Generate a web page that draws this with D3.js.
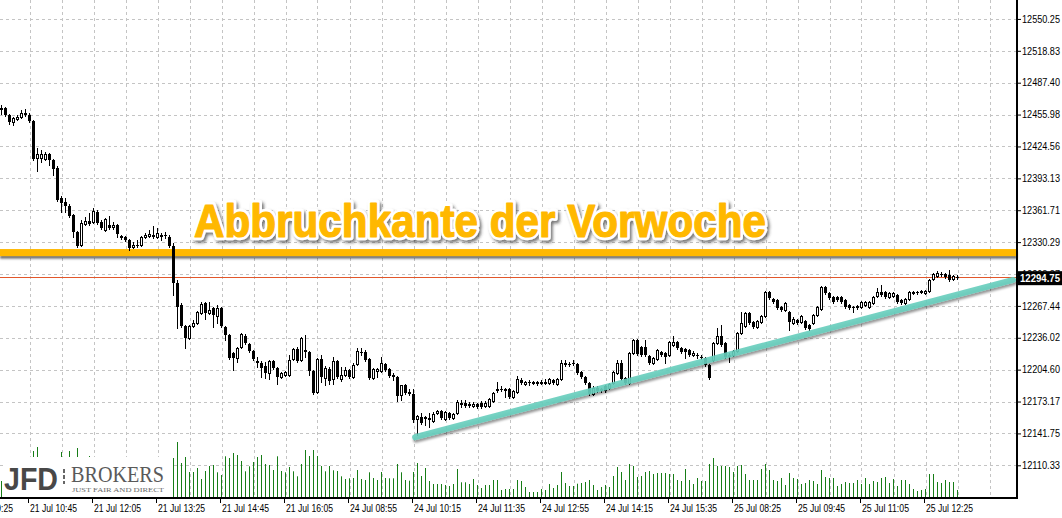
<!DOCTYPE html>
<html><head><meta charset="utf-8">
<script src="https://cdn.jsdelivr.net/npm/d3@7"></script>
<style>html,body{margin:0;padding:0;background:#fff;overflow:hidden}</style>
</head><body><svg id="chart" width="1062" height="518"></svg>
<script>
// ---- DATA (5-minute candles) ----
const openP = [
12461,12462,12456,12449,12452,12454,12458,12456,12450,12413,
12413,12412,12417,12411,12403,12374,12370,12366,12357,12340,
12327,12348,12351,12350,12360,12350,12342,12347,12345,12347,
12336,12335,12332,12325,12327,12327,12335,12336,12337,12335,
12337,12337,12335,12326,12290,12268,12248,12236,12248,12251,
12260,12270,12260,12265,12257,12265,12247,12239,12221,12216,
12227,12238,12230,12223,12213,12211,12208,12201,12213,12206,
12197,12199,12199,12215,12225,12214,12224,12222,12203,12183,
12215,12196,12205,12195,12213,12195,12199,12204,12197,12210,
12222,12222,12215,12196,12203,12203,12210,12205,12199,12197,
12180,12189,12183,12181,12156,12158,12158,12156,12154,12162,
12164,12156,12162,12157,12162,12171,12172,12171,12169,12171,
12172,12169,12169,12174,12185,12186,12186,12186,12178,12183,
12194,12190,12192,12191,12192,12191,12191,12191,12194,12190,
12195,12210,12210,12211,12210,12202,12197,12191,12181,12187,
12185,12188,12187,12191,12201,12211,12196,12191,12221,12234,
12227,12227,12218,12211,12215,12222,12221,12219,12229,12232,
12226,12225,12224,12219,12219,12217,12216,12209,12214,12231,
12238,12231,12219,12219,12223,12241,12248,12260,12252,12247,
12252,12257,12281,12274,12273,12266,12263,12261,12251,12254,
12252,12253,12249,12251,12258,12264,12286,12280,12276,12276,
12276,12273,12268,12266,12266,12266,12268,12266,12270,12277,
12281,12281,12276,12277,12278,12273,12270,12274,12280,12281,
12281,12280,12282,12294,12297,12299,12299,12298,12294,12296];
const highP = [
12465,12463,12457,12454,12456,12460,12461,12458,12451,12423,
12421,12419,12418,12412,12405,12376,12374,12368,12358,12341,
12352,12355,12359,12364,12362,12352,12354,12356,12350,12348,
12337,12336,12333,12330,12332,12336,12339,12342,12346,12344,
12339,12340,12337,12329,12293,12270,12249,12249,12254,12262,
12271,12271,12271,12266,12268,12266,12248,12240,12222,12227,
12241,12240,12231,12224,12217,12213,12212,12214,12214,12207,
12202,12203,12219,12226,12227,12237,12239,12223,12204,12216,
12219,12208,12207,12217,12214,12207,12207,12205,12211,12226,
12226,12224,12216,12206,12206,12217,12211,12206,12201,12198,
12189,12190,12186,12186,12160,12162,12159,12162,12163,12165,
12165,12164,12163,12162,12175,12175,12175,12173,12173,12172,
12174,12174,12177,12183,12192,12188,12187,12187,12185,12198,
12196,12193,12194,12193,12193,12194,12195,12196,12195,12196,
12214,12214,12212,12214,12211,12203,12198,12192,12188,12188,
12187,12189,12191,12203,12214,12214,12197,12222,12235,12235,
12228,12234,12219,12217,12225,12223,12222,12233,12238,12233,
12227,12226,12225,12223,12221,12219,12217,12210,12232,12246,
12249,12232,12221,12224,12242,12261,12261,12261,12253,12254,
12258,12282,12282,12275,12274,12267,12271,12262,12256,12255,
12258,12254,12250,12259,12267,12287,12287,12281,12277,12277,
12277,12274,12269,12267,12268,12272,12272,12272,12277,12285,
12288,12282,12281,12281,12279,12274,12275,12282,12282,12282,
12283,12283,12294,12300,12302,12301,12300,12303,12298,12298];
const lowP = [
12457,12455,12447,12446,12451,12453,12455,12449,12411,12400,
12409,12411,12406,12396,12371,12360,12360,12355,12335,12325,
12326,12347,12347,12349,12348,12343,12341,12343,12343,12335,
12333,12331,12323,12324,12325,12326,12334,12335,12334,12334,
12332,12334,12325,12278,12246,12247,12226,12235,12247,12250,
12259,12255,12259,12247,12251,12247,12234,12215,12204,12212,
12226,12230,12222,12214,12207,12197,12196,12195,12205,12190,
12196,12198,12198,12214,12212,12213,12217,12199,12181,12182,
12192,12189,12190,12190,12196,12193,12198,12196,12196,12209,
12219,12213,12195,12195,12197,12202,12203,12197,12194,12174,
12175,12181,12180,12153,12140,12151,12150,12148,12153,12161,
12156,12155,12156,12156,12161,12168,12168,12168,12168,12167,
12167,12168,12168,12173,12183,12184,12178,12177,12177,12182,
12190,12189,12189,12190,12189,12190,12190,12190,12190,12189,
12194,12208,12208,12209,12200,12196,12190,12180,12180,12183,
12183,12183,12186,12190,12200,12194,12190,12190,12220,12219,
12218,12218,12210,12210,12214,12218,12211,12218,12228,12225,
12221,12216,12218,12218,12216,12215,12208,12195,12213,12230,
12228,12216,12212,12218,12222,12240,12247,12250,12246,12246,
12251,12256,12274,12270,12264,12262,12262,12244,12250,12250,
12251,12245,12244,12250,12257,12263,12279,12274,12270,12272,
12270,12265,12264,12261,12264,12265,12267,12265,12269,12276,
12277,12275,12275,12276,12270,12269,12269,12273,12279,12279,
12280,12279,12281,12293,12296,12297,12295,12292,12293,12294];
const closeP = [
12462,12456,12449,12453,12454,12458,12456,12450,12412,12417,
12417,12417,12411,12402,12372,12369,12366,12356,12340,12326,
12349,12351,12348,12361,12349,12344,12353,12344,12347,12338,
12334,12332,12324,12327,12326,12335,12337,12338,12335,12339,
12335,12336,12326,12290,12266,12248,12236,12248,12251,12261,
12269,12260,12263,12258,12265,12248,12239,12216,12216,12226,
12240,12231,12223,12215,12211,12206,12201,12213,12206,12197,
12201,12202,12214,12225,12213,12236,12222,12203,12182,12215,
12197,12206,12193,12213,12197,12199,12204,12197,12209,12223,
12221,12214,12196,12205,12205,12211,12204,12198,12197,12179,
12189,12182,12181,12155,12159,12152,12156,12157,12161,12164,
12157,12163,12157,12161,12173,12172,12169,12169,12171,12168,
12168,12172,12176,12182,12186,12185,12184,12178,12184,12195,
12191,12192,12191,12192,12190,12192,12192,12195,12191,12195,
12211,12211,12209,12210,12201,12197,12191,12181,12187,12184,
12186,12184,12190,12202,12211,12195,12191,12221,12234,12220,
12219,12219,12211,12216,12224,12219,12217,12232,12232,12226,
12222,12222,12219,12221,12218,12216,12209,12196,12231,12238,
12229,12217,12217,12223,12241,12251,12260,12251,12247,12253,
12257,12281,12275,12271,12265,12263,12270,12252,12255,12251,
12257,12246,12245,12258,12266,12286,12280,12275,12271,12273,
12271,12266,12265,12265,12267,12271,12271,12271,12276,12281,
12278,12276,12280,12280,12271,12270,12274,12281,12281,12280,
12282,12282,12293,12299,12300,12298,12296,12293,12297,12294.75];
const volumes = [
170,180,220,200,160,180,150,240,470,510,
300,220,250,280,350,460,300,470,350,500,
380,320,420,360,300,260,280,240,200,260,
220,180,250,200,180,220,200,160,220,180,
150,140,240,400,560,350,410,260,260,300,
190,270,320,330,257,230,417,400,450,430,
370,267,317,360,410,430,340,330,280,417,
270,257,310,267,217,340,480,420,480,420,
320,267,320,277,270,217,190,197,200,280,
190,180,257,200,180,260,200,197,197,340,
257,180,173,260,350,220,300,170,140,140,
140,130,120,140,290,157,157,140,190,130,
100,130,130,180,180,80,90,90,90,180,
170,110,60,60,60,90,80,140,100,130,
260,150,120,120,143,150,160,180,130,80,
110,130,110,220,310,260,180,340,320,210,
220,260,270,240,250,250,250,240,240,180,
170,290,180,140,200,170,170,340,400,320,
320,320,310,260,320,330,240,180,180,180,
290,340,280,180,170,200,130,250,200,190,
140,150,180,170,140,280,210,200,200,120,
140,160,150,150,180,140,200,140,170,160,
200,210,150,190,120,180,180,140,90,70,
80,90,240,240,160,150,180,160,160,80];
const yTickValues = [12110.33,12141.75,12173.17,12204.60,12236.02,12267.44,12298.87,12330.29,12361.71,12393.13,12424.56,12455.98,12487.40,12518.83,12550.25];
const xTickBars = [-9,7,23,39,55,71,87,103,119,135,151,167,183,199,215,231];
const xTickLabels = ["21 Jul 09:25","21 Jul 10:45","21 Jul 12:05","21 Jul 13:25","21 Jul 14:45","21 Jul 16:05","24 Jul 08:55","24 Jul 10:15","24 Jul 11:35","24 Jul 12:55","24 Jul 14:15","24 Jul 15:35","25 Jul 08:25","25 Jul 09:45","25 Jul 11:05","25 Jul 12:25"];
const resistancePrice = 12320;
const lastPrice = 12294.75;
const trendBars = [103.4, 252.9];
const trendPrices = [12138, 12293];
const titleText = "Abbruchkante der Vorwoche";

// ---- DRAWING ----
const svg = d3.select("#chart");
const W = 1062, H = 518, plotR = 1017, plotB = 498;
const x = d3.scaleLinear().domain([0, 239]).range([1.5, 957.5]);
const y = d3.scaleLinear().domain([12078.1, 12568.9]).range([plotB, 0]);
const yVol = d3.scaleLinear().domain([0, 600]).range([plotB, 438]);
const FONT = "'Liberation Sans', Arial, sans-serif";

const defs = svg.append("defs");
function shadow(id, dx, dy, sd, op, color) {
  const f = defs.append("filter").attr("id", id)
    .attr("filterUnits", "userSpaceOnUse").attr("x", -20).attr("y", -20).attr("width", W + 40).attr("height", H + 40);
  f.append("feDropShadow").attr("dx", dx).attr("dy", dy).attr("stdDeviation", sd)
    .attr("flood-color", color || "#000").attr("flood-opacity", op);
}
shadow("shYellow", 0, 2.5, 1, 0.6);
shadow("shTeal", 1, 2.5, 1.2, 0.45);
shadow("shTitle", 2, 2.5, 1.4, 0.65, "#333");

svg.append("rect").attr("width", W).attr("height", H).attr("fill", "#fff");

// grid
const gridBars = d3.range(7, 250, 8);
svg.append("g").selectAll("line").data(gridBars).join("line")
  .attr("x1", d => Math.round(x(d)) + 0.5).attr("x2", d => Math.round(x(d)) + 0.5)
  .attr("y1", 0).attr("y2", plotB)
  .attr("stroke", "#c4c4c4").attr("stroke-dasharray", "3,3");
svg.append("g").selectAll("line").data(yTickValues).join("line")
  .attr("x1", 0).attr("x2", plotR)
  .attr("y1", d => Math.round(y(d)) + 0.5).attr("y2", d => Math.round(y(d)) + 0.5)
  .attr("stroke", "#c4c4c4").attr("stroke-dasharray", "3,3");

// volumes
svg.append("g").selectAll("line").data(volumes).join("line")
  .attr("x1", (d, i) => Math.floor(x(i)) + 0.5).attr("x2", (d, i) => Math.floor(x(i)) + 0.5)
  .attr("y1", plotB).attr("y2", d => yVol(d))
  .attr("stroke", "#177d17").attr("stroke-width", 1);

// logo
const logo = svg.append("g");
logo.append("rect").attr("x", 4).attr("y", 457).attr("width", 167).attr("height", 40).attr("fill", "#fff");
logo.append("text").attr("x", 4).attr("y", 490).text("JFD")
  .attr("font-family", FONT).attr("font-weight", "bold").attr("font-size", 32)
  .attr("textLength", 54).attr("lengthAdjust", "spacingAndGlyphs").attr("fill", "#484848");
logo.append("line").attr("x1", 64).attr("x2", 64).attr("y1", 469).attr("y2", 484)
  .attr("stroke", "#666").attr("stroke-width", 2).attr("stroke-dasharray", "4,2");
logo.append("text").attr("x", 71).attr("y", 482).text("BROKERS")
  .attr("font-family", "'Liberation Serif', 'DejaVu Serif', serif").attr("font-size", 24)
  .attr("textLength", 93).attr("lengthAdjust", "spacingAndGlyphs").attr("fill", "#5a5a5a");
logo.append("text").attr("x", 72).attr("y", 492).text("JUST FAIR AND DIRECT")
  .attr("font-family", "'Liberation Serif', 'DejaVu Serif', serif").attr("font-size", 7)
  .attr("textLength", 92).attr("lengthAdjust", "spacingAndGlyphs").attr("fill", "#6a6a6a");

// resistance line (yellow band)
svg.append("rect").attr("x", 0).attr("width", plotR)
  .attr("y", y(resistancePrice) - 3.5).attr("height", 7)
  .attr("fill", "#ffb800").attr("filter", "url(#shYellow)");

// last price line
svg.append("line").attr("x1", 0).attr("x2", plotR)
  .attr("y1", Math.round(y(lastPrice)) - 0.5).attr("y2", Math.round(y(lastPrice)) - 0.5)
  .attr("stroke", "#e2572b").attr("stroke-width", 1);

// candles
const idx = d3.range(openP.length);
const cg = svg.append("g");
cg.selectAll("line.wick").data(idx).join("line").attr("class", "wick")
  .attr("x1", i => Math.floor(x(i)) + 0.5).attr("x2", i => Math.floor(x(i)) + 0.5)
  .attr("y1", i => Math.round(y(highP[i]))).attr("y2", i => Math.round(y(lowP[i])) + 1)
  .attr("stroke", "#000").attr("stroke-width", 1);
idx.forEach(i => {
  const cx = Math.floor(x(i));
  const yo = Math.round(y(openP[i])), yc = Math.round(y(closeP[i]));
  if (closeP[i] > openP[i] && yo - yc >= 2) {
    cg.append("rect").attr("x", cx - 0.5).attr("y", yc + 0.5).attr("width", 2).attr("height", yo - yc)
      .attr("fill", "#fff").attr("stroke", "#000").attr("stroke-width", 1);
  } else {
    const top = Math.min(yo, yc), h = Math.max(1, Math.abs(yo - yc));
    cg.append("rect").attr("x", cx - 1).attr("y", top).attr("width", 3).attr("height", h + (closeP[i] > openP[i] ? 1 : 0))
      .attr("fill", "#000");
  }
});

// trend line (teal)
svg.append("line")
  .attr("x1", x(trendBars[0])).attr("y1", y(trendPrices[0]))
  .attr("x2", x(trendBars[1])).attr("y2", y(trendPrices[1]))
  .attr("stroke", "#66cdbd").attr("stroke-width", 6).attr("stroke-linecap", "round")
  .attr("stroke-opacity", 0.9).attr("filter", "url(#shTeal)");

// title: white outline + shadow layer, then heavier yellow glyphs
const tg = svg.append("g");
function titleLayer() {
  return tg.append("text").attr("x", 194).attr("y", 237).text(titleText)
    .attr("font-family", FONT).attr("font-weight", "bold").attr("font-size", 46)
    .attr("textLength", 572).attr("lengthAdjust", "spacingAndGlyphs")
    .attr("stroke-linejoin", "round");
}
titleLayer().attr("fill", "#fff").attr("stroke", "#fff").attr("stroke-width", 6.5)
  .attr("filter", "url(#shTitle)");
titleLayer().attr("fill", "#ffb800").attr("stroke", "#ffb800").attr("stroke-width", 1.2);

// axes
const yAxis = d3.axisRight(y).tickValues(yTickValues).tickSize(4).tickPadding(1)
  .tickFormat(d => d.toFixed(2));
const gy = svg.append("g").attr("transform", `translate(${plotR},0)`).call(yAxis);
gy.select(".domain").remove();
gy.selectAll("line").attr("stroke", "#000");
gy.selectAll("text").attr("font-family", FONT).attr("font-size", 10).attr("fill", "#000")
  .attr("textLength", 38).attr("lengthAdjust", "spacingAndGlyphs");

const xAxis = d3.axisBottom(x).tickValues(xTickBars).tickSize(5).tickPadding(2)
  .tickFormat((d, i) => xTickLabels[i]);
const gx = svg.append("g").attr("transform", `translate(0,${plotB})`).call(xAxis);
gx.select(".domain").remove();
gx.selectAll(".tick line").attr("stroke", "#000").attr("transform", "translate(-1.5,0)");
gx.selectAll("text").attr("font-family", FONT).attr("font-size", 10).attr("fill", "#000")
  .attr("text-anchor", "start").attr("x", 0)
  .attr("textLength", 47).attr("lengthAdjust", "spacingAndGlyphs");

svg.append("line").attr("x1", plotR).attr("x2", plotR).attr("y1", 0).attr("y2", plotB + 1)
  .attr("stroke", "#000").attr("stroke-width", 2);
svg.append("line").attr("x1", 0).attr("x2", plotR).attr("y1", plotB).attr("y2", plotB)
  .attr("stroke", "#000").attr("stroke-width", 2);

// price tag
const ty = y(lastPrice);
svg.append("rect").attr("x", plotR + 1).attr("y", ty - 7).attr("width", W - plotR - 1).attr("height", 14).attr("fill", "#000");
svg.append("text").attr("x", plotR + 3).attr("y", ty).attr("dy", "0.35em").text(lastPrice.toFixed(2))
  .attr("font-family", FONT).attr("font-weight", "bold").attr("font-size", 10).attr("fill", "#fff")
  .attr("textLength", 40).attr("lengthAdjust", "spacingAndGlyphs");
</script></body></html>
